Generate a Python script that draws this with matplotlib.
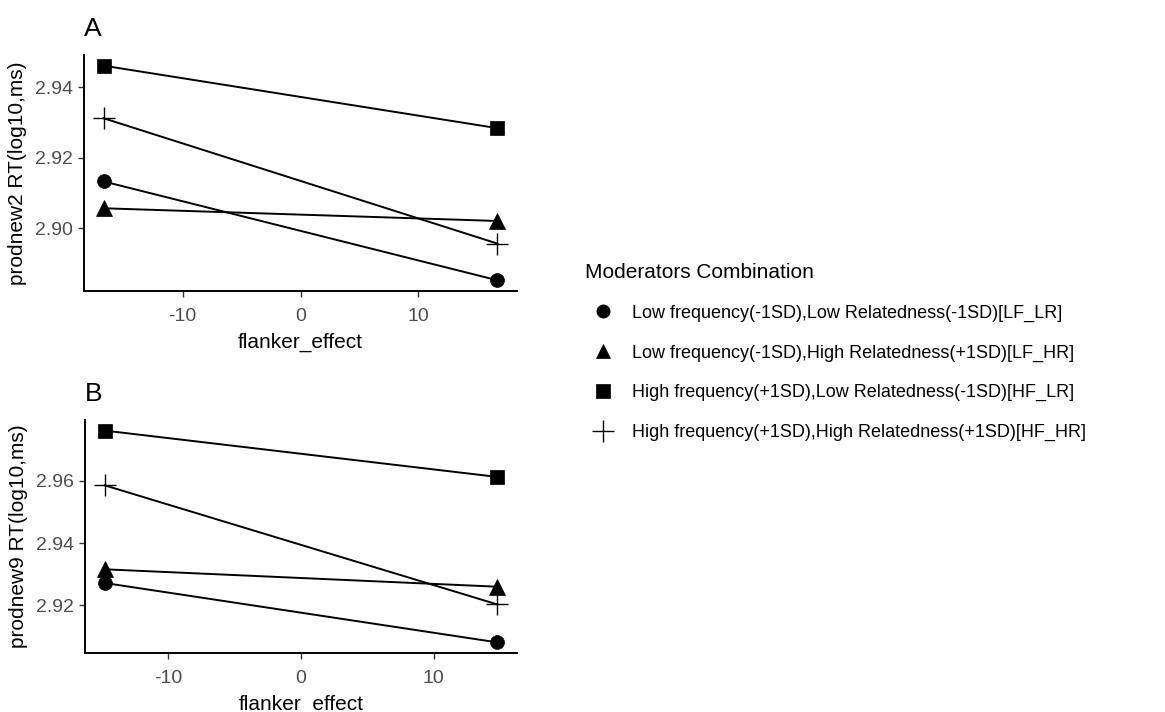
import matplotlib
matplotlib.use("Agg")
import matplotlib.pyplot as plt
from matplotlib.lines import Line2D

plt.rcParams["font.family"] = ["Liberation Sans", "DejaVu Sans"]
plt.rcParams["axes.unicode_minus"] = False

# -----------------------------
# Data
# -----------------------------
groups = ["LF_LR", "LF_HR", "HF_LR", "HF_HR"]
legend_labels = [
    "Low frequency(-1SD),Low Relatedness(-1SD)[LF_LR]",
    "Low frequency(-1SD),High Relatedness(+1SD)[LF_HR]",
    "High frequency(+1SD),Low Relatedness(-1SD)[HF_LR]",
    "High frequency(+1SD),High Relatedness(+1SD)[HF_HR]",
]

# panel A: prodnew2
x_a = [-16.7, 16.7]
a_lf_lr = [2.9133, 2.8853]
a_lf_hr = [2.9057, 2.9021]
a_hf_lr = [2.9461, 2.9284]
a_hf_hr = [2.9312, 2.8957]

# panel B: prodnew9
x_b = [-14.8, 14.8]
b_lf_lr = [2.9272, 2.9081]
b_lf_hr = [2.9316, 2.9260]
b_hf_lr = [2.9762, 2.9613]
b_hf_hr = [2.9586, 2.9203]

xticks = [-10, 0, 10]
yticks_a = [2.90, 2.92, 2.94]
yticks_b = [2.92, 2.94, 2.96]

markers = {"LF_LR": ("o", 10), "LF_HR": ("^", 11), "HF_LR": ("s", 10), "HF_HR": ("+", 16)}

# -----------------------------
# Plot
# -----------------------------
fig = plt.figure(figsize=(11.65, 7.12), dpi=100)
ax_a = fig.add_axes([0.0721, 0.5913, 0.3717, 0.3315])
ax_b = fig.add_axes([0.0730, 0.0829, 0.3708, 0.3272])

panels = [
    (ax_a, x_a, [a_lf_lr, a_lf_hr, a_hf_lr, a_hf_hr], yticks_a, "prodnew2 RT(log10,ms)", "A"),
    (ax_b, x_b, [b_lf_lr, b_lf_hr, b_hf_lr, b_hf_hr], yticks_b, "prodnew9 RT(log10,ms)", "B"),
]

for ax, xs, series, yticks, ylab, letter in panels:
    for g, ys in zip(groups, series):
        m, ms = markers[g]
        ax.plot(xs, ys, color="black", lw=1.4, marker=m, markersize=ms,
                markeredgewidth=1.0 if m == "+" else 0.5, markeredgecolor="black",
                markerfacecolor="black")
    ax.margins(x=0.05, y=0.05)
    ax.set_xticks(xticks)
    ax.set_yticks(yticks)
    ax.set_yticklabels([f"{v:.2f}" for v in yticks])
    ax.set_xlabel("flanker_effect", fontsize=15, labelpad=6)
    ax.set_ylabel(ylab, fontsize=15, labelpad=6)
    ax.tick_params(labelsize=14, length=4, width=1, color="#333333", labelcolor="#4D4D4D")
    ax.tick_params(axis="x", pad=8)
    ax.tick_params(axis="y", pad=4)
    for s in ["top", "right"]:
        ax.spines[s].set_visible(False)
    for s in ["left", "bottom"]:
        ax.spines[s].set_linewidth(1.4)
    ax.text(0.0, 1.06, letter, transform=ax.transAxes, fontsize=19, va="bottom", ha="left")

handles = []
for g in groups:
    m, ms = markers[g]
    handles.append(Line2D([], [], ls="none", marker=m, markersize=ms * 0.95, color="black",
                          markeredgewidth=1.0 if m == "+" else 0.5))

leg = fig.legend(handles, legend_labels, title="Moderators Combination",
                 loc="upper left", bbox_to_anchor=(0.4882, 0.6534), frameon=False,
                 fontsize=13, title_fontsize=15, labelspacing=1.25,
                 handletextpad=0.6, handlelength=2.0, alignment="left")

fig.savefig("out.png", dpi=100)
